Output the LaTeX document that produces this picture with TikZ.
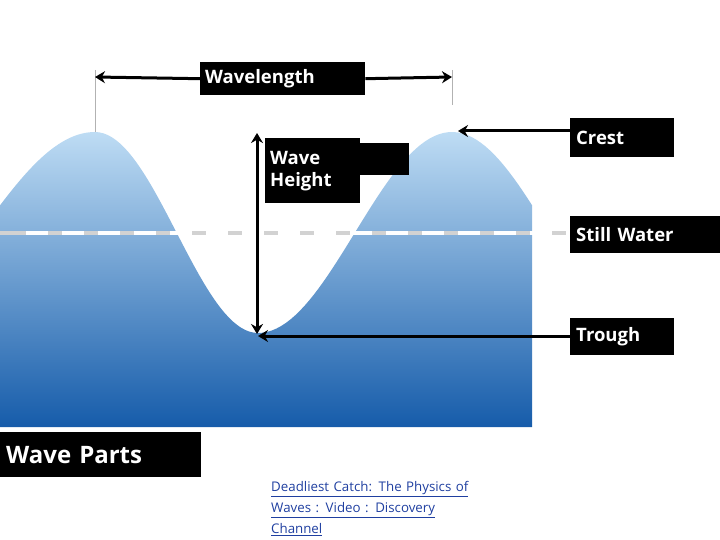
\documentclass[tikz,border=0pt]{standalone}
\usepackage{fontspec}
\setmainfont{Open Sans}
\usetikzlibrary{arrows.meta}
\definecolor{linkblue}{HTML}{1F3FA0}
\begin{document}
\begin{tikzpicture}[x=1pt,y=-1pt,
  lbl/.style={fill=black,text=white,font=\bfseries\fontsize{18.5}{22}\selectfont,inner sep=0pt,anchor=north west,align=left},
  arr/.style={line width=3pt,-{Stealth[length=10pt,width=12pt]}}]
\useasboundingbox (0,0) rectangle (720,540);
% water
\shade[top color={rgb,255:red,190;green,220;blue,244},bottom color={rgb,255:red,22;green,92;blue,170}]
  plot[domain=0:95,samples=30] (\x,{232.5-100.5*cos((\x-95)/230*180)})
  -- plot[domain=95:258,samples=40] (\x,{232.5-100.5*cos((\x-95)/163*180)})
  -- plot[domain=258:532,samples=60] (\x,{232.5+100.5*cos((\x-258)/194*180)})
  -- (532,427) -- (0,427) -- cycle;
% still water line
\draw[gray!35,line width=4pt] (0,233) -- (570,233);
\draw[white,line width=4pt,dash pattern=on 22pt off 14pt] (26,233) -- (570,233);
% wavelength
\coordinate (c1) at (95,132); \coordinate (c2) at (452,132);
\draw[gray!60,line width=0.8pt] (95,70) -- (c1);
\draw[gray!60,line width=0.8pt] (452,70) -- (452,105);
\node[lbl,minimum width=165pt,minimum height=33pt,text width=155pt,inner xsep=5pt] (wl) at (200,62) {Wavelength};
\draw[arr] (wl.west) -- (95,77);
\draw[arr] (wl.east) -- (452,77);
% wave height
\coordinate (top) at (257,133); \coordinate (bot) at (257,334);
\draw[line width=3pt,{Stealth[length=10pt,width=12pt]}-{Stealth[length=10pt,width=12pt]}] (top) -- (bot);
\fill[black] (358,143) rectangle (409,175);
\node[lbl,minimum width=93pt,minimum height=65pt,text width=85pt,inner xsep=5pt,inner ysep=3pt] (wh) at (265,138) {Wave\\Height};
% labels right
\node[lbl,minimum width=101pt,minimum height=39pt,text width=92pt,inner xsep=6pt,inner ysep=7pt] (crest) at (570,118) {Crest};
\node[lbl,minimum width=149pt,minimum height=37pt,text width=140pt,inner xsep=6pt,inner ysep=7pt] (still) at (570,216) {Still Water};
\node[lbl,minimum width=101pt,minimum height=37pt,text width=92pt,inner xsep=6pt,inner ysep=7pt] (trough) at (570,318) {Trough};
\coordinate (cr) at (458,131); \coordinate (tr) at (258,336);
\draw[arr] (crest.west |- cr) -- (cr);
\draw[arr] (trough.west |- tr) -- (tr);
\node[lbl,font=\bfseries\fontsize{24}{28}\selectfont,minimum width=197pt,minimum height=45pt,text width=189pt,inner xsep=6pt,inner ysep=7pt] (wp) at (0,432) {Wave Parts};
\node[anchor=north west,inner sep=0pt,text width=270pt,align=left,text=linkblue,font=\fontsize{13.3}{21}\selectfont] (link) at (271,481)
 {\underline{Deadliest Catch: The Physics of}\\\underline{Waves : Video : Discovery}\\\underline{Channel}};
\end{tikzpicture}
\end{document}
